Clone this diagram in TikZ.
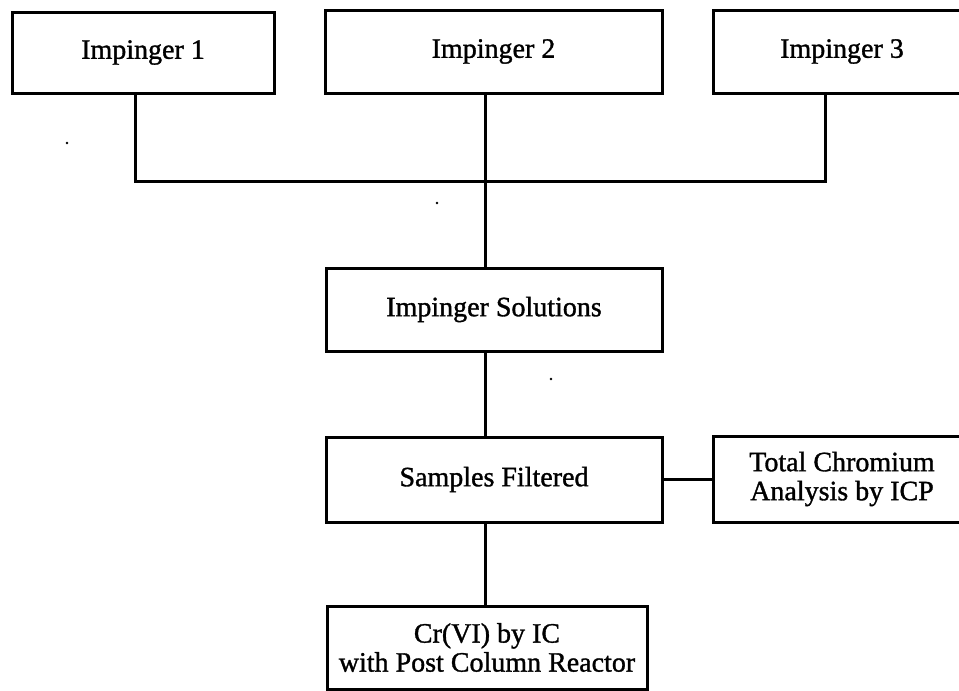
\documentclass[tikz,border=0pt]{standalone}
\usepackage{fontspec}
\setmainfont{Liberation Serif}[FakeBold=1.2]
\begin{document}
\begin{tikzpicture}[x=1pt,y=-1pt,
  box/.style={draw, line width=3pt, inner sep=0pt, align=center,
              font=\fontsize{28}{29}\selectfont},
  wire/.style={line width=3pt}]
  \useasboundingbox (0,0) rectangle (959,691);
  \clip (0,0) rectangle (959,691);

  % sampling train
  \node[box, minimum width=262pt, minimum height=81pt] (i1) at (143,52.5) {Impinger 1};
  \node[box, minimum width=337pt, minimum height=83pt] (i2) at (493.5,51.5) {Impinger 2};
  \node[box, minimum width=258pt, minimum height=83pt] (i3) at (842,51.5) {Impinger 3};

  % recovery and analysis
  \node[box, minimum width=336pt, minimum height=83pt] (sol) at (494,309.5) {Impinger Solutions};
  \node[box, minimum width=336pt, minimum height=85pt] (filt) at (494,479.5) {Samples Filtered};
  \node[box, minimum width=258pt, minimum height=86pt] (tot) at (842,479) {Total Chromium\\Analysis by ICP};
  \node[box, minimum width=320pt, minimum height=83pt] (cr) at (487,647.5) {Cr(VI) by IC\\with Post Column Reactor};

  % collecting bus
  \coordinate (busL) at (135,181);
  \coordinate (busM) at (485,181);
  \coordinate (busR) at (825,181);

  \draw[wire] (i1.south -| busL) -- (busL) -- (busR) -- (i3.south -| busR);
  \draw[wire] (i2.south -| busM) -- (sol.north -| busM);
  \draw[wire] (sol.south -| busM) -- (filt.north -| busM);
  \draw[wire] (filt.south -| busM) -- (cr.north -| busM);
  \draw[wire] (filt.east) -- (filt.east -| tot.west);

  % stray specks
  \fill (67,143) circle (1.3pt);
  \fill (437,203) circle (1.3pt);
  \fill (551,379) circle (1.3pt);
\end{tikzpicture}
\end{document}
